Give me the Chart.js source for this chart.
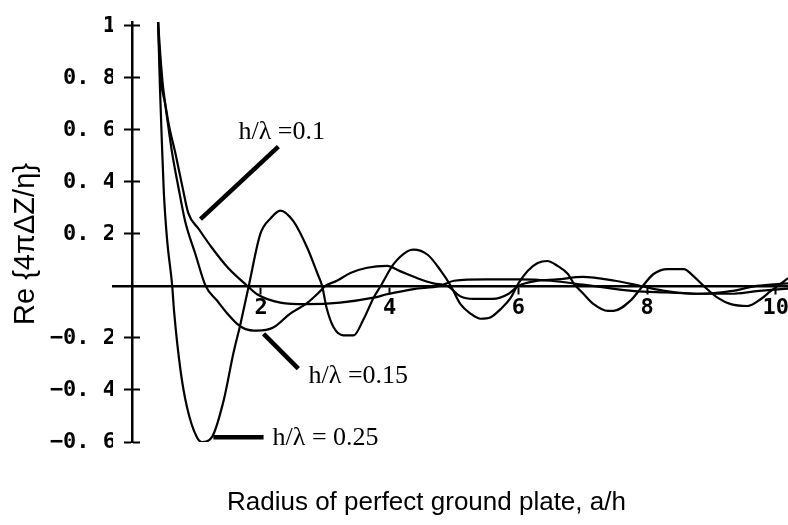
<!DOCTYPE html>
<html>
<head>
<meta charset="utf-8">
<script src="https://cdn.jsdelivr.net/npm/chart.js@4/dist/chart.umd.min.js"></script>
<style>
  html, body { margin: 0; padding: 0; background: #fff; }
  #wrap { width: 788px; height: 525px; position: relative; }
</style>
</head>
<body>
<div id="wrap"><canvas id="myChart"></canvas></div>
<script>
// values (x = a/h, y = Re{4πΔZ/η})
const x_025 = [0.40, 0.43, 0.46, 0.49, 0.54, 0.62, 0.65, 0.75, 0.85, 1.00, 1.08, 1.24, 1.42, 1.57, 1.68, 1.81, 1.99, 2.15, 2.30, 2.50, 2.72, 2.88, 2.95, 3.02, 3.13, 3.28, 3.44, 3.59, 3.75, 3.86, 4.06, 4.28, 4.37, 4.59, 4.79, 4.95, 5.10, 5.26, 5.41, 5.57, 5.72, 5.88, 6.00, 6.14, 6.30, 6.45, 6.61, 6.77, 6.86, 7.01, 7.17, 7.39, 7.48, 7.74, 7.90, 8.10, 8.32, 8.57, 8.72, 8.88, 9.10, 9.30, 9.56, 9.77, 9.92, 10.03, 10.19];
const y_025 = [1.02, 0.76, 0.55, 0.36, 0.18, 0.0, -0.10, -0.326, -0.466, -0.58, -0.60, -0.58, -0.44, -0.26, -0.147, 0.0, 0.20, 0.26, 0.29, 0.25, 0.146, 0.046, 0.0, -0.085, -0.16, -0.19, -0.19, -0.13, -0.045, 0.0, 0.084, 0.134, 0.14, 0.12, 0.06, 0.0, -0.07, -0.107, -0.126, -0.12, -0.09, -0.046, 0.01, 0.057, 0.088, 0.096, 0.077, 0.046, 0.01, -0.03, -0.07, -0.096, -0.096, -0.057, -0.01, 0.046, 0.065, 0.065, 0.038, 0.0, -0.046, -0.07, -0.077, -0.05, -0.02, 0.0, 0.03];

const x_015 = [0.40, 0.435, 0.51, 0.62, 0.72, 0.82, 0.98, 1.14, 1.32, 1.48, 1.63, 1.75, 1.94, 2.19, 2.45, 2.72, 2.92, 3.00, 3.18, 3.39, 3.65, 3.96, 4.16, 4.43, 4.68, 4.90, 5.10, 5.30, 5.60, 5.85, 6.00, 6.30, 6.60, 7.00, 7.50, 7.90, 8.30, 8.80, 9.30, 9.70, 10.19];
const y_015 = [1.02, 0.82, 0.70, 0.51, 0.375, 0.25, 0.123, 0.0, -0.057, -0.107, -0.146, -0.165, -0.172, -0.16, -0.107, -0.065, -0.02, 0.0, 0.02, 0.05, 0.07, 0.077, 0.057, 0.03, 0.01, 0.0, -0.04, -0.05, -0.05, -0.03, 0.0, 0.02, 0.025, 0.035, 0.02, 0.0, -0.02, -0.03, -0.02, 0.0, 0.01];

const x_010 = [0.40, 0.435, 0.48, 0.56, 0.67, 0.78, 0.87, 1.03, 1.24, 1.49, 1.79, 1.94, 2.30, 2.71, 3.23, 3.75, 3.96, 4.37, 4.78, 5.00, 5.50, 6.00, 6.50, 7.00, 7.30, 7.80, 8.30, 8.80, 9.30, 9.70, 10.19];
const y_010 = [1.02, 0.89, 0.76, 0.63, 0.51, 0.38, 0.28, 0.22, 0.146, 0.069, 0.0, -0.032, -0.064, -0.07, -0.064, -0.045, -0.032, -0.012, 0.0, 0.02, 0.025, 0.025, 0.02, 0.005, -0.005, -0.02, -0.025, -0.03, -0.03, -0.02, -0.01];

const xTicks = [2, 4, 6, 8, 10];
const xTickLabels = ['2', '4', '6', '8', '10'];
const yTicks = [1, 0.8, 0.6, 0.4, 0.2, -0.2, -0.4, -0.6];
const yTickLabels = ['1', '0. 8', '0. 6', '0. 4', '0. 2', '\u22120. 2', '\u22120. 4', '\u22120. 6'];

const seriesNames = ['h/\u03bb =0.1', 'h/\u03bb =0.15', 'h/\u03bb = 0.25'];

function toPoints(xs, ys) {
    return xs.map(function (v, i) { return {x: v, y: ys[i]} });
}

// leader lines and labels, in data units
const notes = [
    {text: seriesNames[0], at: [1.65, 0.567], from: [1.06, 0.257], to: [2.27, 0.536]},
    {text: seriesNames[1], at: [2.74, -0.375], from: [2.04, -0.184], to: [2.58, -0.318]},
    {text: seriesNames[2], at: [2.18, -0.613], from: [1.26, -0.582], to: [2.04, -0.582]}
];

const overlay = {
    id: 'overlay',
    afterDraw(chart) {
        const ctx = chart.ctx;
        const xs = chart.scales.x;
        const ys = chart.scales.y;
        ctx.save();
        ctx.fillStyle = '#000';
        ctx.strokeStyle = '#000';
        ctx.lineWidth = 4.5;
        ctx.font = '26px "Liberation Serif"';
        ctx.textBaseline = 'alphabetic';
        notes.forEach(function (n) {
            ctx.beginPath();
            ctx.moveTo(xs.getPixelForValue(n.from[0]), ys.getPixelForValue(n.from[1]));
            ctx.lineTo(xs.getPixelForValue(n.to[0]), ys.getPixelForValue(n.to[1]));
            ctx.stroke();
            ctx.fillText(n.text, xs.getPixelForValue(n.at[0]), ys.getPixelForValue(n.at[1]));
        });

        // axis titles
        ctx.font = '26px "Liberation Sans"';
        ctx.fillText('Radius of perfect ground plate, a/h', 227, 510);
        ctx.font = '29px "Liberation Sans"';
        ctx.translate(34, 244);
        ctx.rotate(-Math.PI / 2);
        ctx.textAlign = 'center';
        ctx.fillText('Re {4\u03c0\u0394Z/\u03b7}', 0, 0);
        ctx.restore();
    }
};

const tickFont = {family: 'DejaVu Sans Mono', size: 22, weight: 'bold'};
const yTickSetup = function (s) { s.ticks = yTicks.map(function (v) { return {value: v} }) };
const noSize = function (s) { s.width = 0; s.paddingTop = 0; s.paddingBottom = 0; };

new Chart('myChart', {
    type: 'scatter',
    data: {
        datasets: [
            {label: seriesNames[0], data: toPoints(x_010, y_010)},
            {label: seriesNames[1], data: toPoints(x_015, y_015)},
            {label: seriesNames[2], data: toPoints(x_025, y_025)}
        ].map(function (d) {
            d.xAxisID = 'x';
            d.yAxisID = 'y';
            d.showLine = true;
            d.borderColor = '#000';
            d.borderWidth = 2.2;
            d.pointRadius = 0;
            d.cubicInterpolationMode = 'monotone';
            return d;
        })
    },
    options: {
        responsive: true,
        maintainAspectRatio: false,
        animation: false,
        layout: {padding: {left: 0, right: 0, top: 22, bottom: 83}},
        scales: {
            x: {
                type: 'linear',
                min: -0.3,
                max: 10.19,
                position: {y: 0},
                afterBuildTicks: function (s) { s.ticks = xTicks.map(function (v) { return {value: v} }) },
                afterFit: function (s) { s.height = 0; s.paddingLeft = 0; s.paddingRight = 0; },
                ticks: {
                    callback: function (v, i) { return xTickLabels[i] },
                    color: '#000',
                    font: tickFont,
                    padding: 2,
                    maxRotation: 0,
                    autoSkip: false
                },
                grid: {drawOnChartArea: false, tickLength: 7, tickWidth: 2, color: '#000'},
                border: {color: '#000', width: 2.5}
            },
            // axis line and tick marks at a/h = 0
            y: {
                type: 'linear',
                min: -0.6,
                max: 1.015,
                position: {x: 0},
                afterBuildTicks: yTickSetup,
                afterFit: noSize,
                ticks: {display: false},
                grid: {drawOnChartArea: false, tickLength: 7, tickWidth: 2, color: '#000'},
                border: {color: '#000', width: 2.5}
            },
            // right half of the cross-shaped tick marks
            yr: {
                type: 'linear',
                min: -0.6,
                max: 1.015,
                position: {x: 0.12},
                afterBuildTicks: yTickSetup,
                afterFit: noSize,
                ticks: {display: false},
                grid: {drawOnChartArea: false, tickLength: 7, tickWidth: 2, color: '#000'},
                border: {display: false}
            },
            // tick labels, kept in the left margin
            yl: {
                type: 'linear',
                min: -0.6,
                max: 1.015,
                position: 'left',
                afterBuildTicks: yTickSetup,
                afterFit: function (s) { s.width = 113; s.paddingTop = 0; s.paddingBottom = 0; },
                ticks: {
                    callback: function (v, i) { return yTickLabels[i] },
                    color: '#000',
                    font: tickFont,
                    padding: -3,
                    autoSkip: false
                },
                grid: {display: false, drawTicks: false},
                border: {display: false}
            }
        },
        plugins: {
            legend: {display: false},
            tooltip: {enabled: false}
        }
    },
    plugins: [overlay]
});
</script>
</body>
</html>
